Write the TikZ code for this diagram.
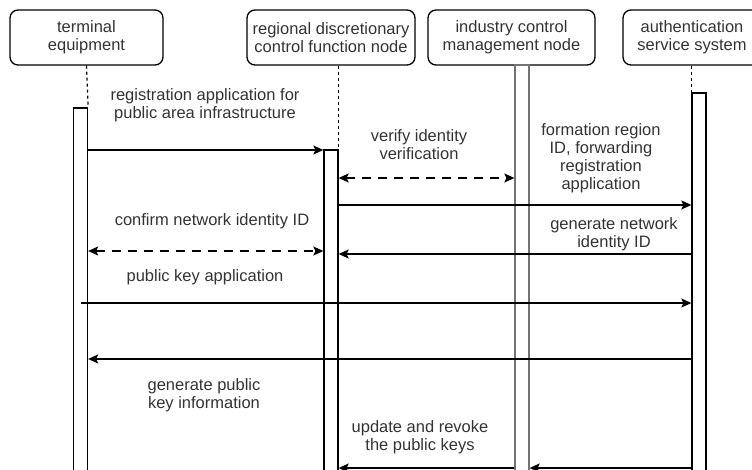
\documentclass[tikz,border=0pt]{standalone}
\usepackage{fontspec}
\setmainfont{Liberation Sans}
\usetikzlibrary{positioning}
\usetikzlibrary{arrows.meta}

\begin{document}
\begin{tikzpicture}[x=1pt,y=-1pt,
  txt/.style={align=center, text=black!80, font=\fontsize{16.5}{18}\selectfont, inner sep=0pt},
  head/.style={txt, draw, text=black!80, rounded corners=8pt, line width=1.3pt, minimum height=55pt},
  bar/.style={draw, fill=white, line width=1.3pt, minimum width=14pt, inner sep=0pt},
  life/.style={dash pattern=on 3pt off 3pt, line width=1.3pt},
  msg/.style={-{Stealth[length=10pt,width=9pt,inset=2pt]}, line width=1.3pt},
  both/.style={{Stealth[length=10pt,width=9pt,inset=2pt]}-{Stealth[length=10pt,width=9pt,inset=2pt]}, dash pattern=on 9pt off 7pt, line width=1.3pt}
]
\useasboundingbox (0,0) rectangle (752,470);
\clip (0,0) rectangle (752,470);

\node(term)[head, minimum width=153pt] at (86.5,37.5) {terminal\\equipment};
\node(reg)[head, minimum width=168pt] at (331,37.5) {regional discretionary\\control function node};
\node(ind)[head, minimum width=167pt] at (511.5,37.5) {industry control\\management node};
\node(auth)[head, minimum width=138pt] at (692,37.5) {authentication\\service system};

\node(tbar)[bar, minimum height=372pt] at (80.5,294) {};
\node(rbar)[bar, minimum height=330pt] at (331,315) {};
\node(ibar)[bar, draw=black!55, minimum height=415pt] at (522,272.5) {};
\node(abar)[bar, minimum height=387pt] at (699,286.5) {};

\draw[life] (term.south) -- (tbar.north east);
\draw[life] (rbar.north east |- reg.south) -- (rbar.north east);
\draw[life] (abar.north west |- auth.south) -- (abar.north west);

\coordinate(y1) at (0,150);
\coordinate(y2) at (0,178);
\coordinate(y3) at (0,205);
\coordinate(y4) at (0,254);
\coordinate(y5) at (0,251);
\coordinate(y6) at (0,303);
\coordinate(y7) at (0,359);
\coordinate(y8) at (0,468);

\draw[msg] (tbar.east |- y1) -- (rbar.west |- y1);
\draw[both] (rbar.east |- y2) -- (ibar.west |- y2);
\draw[msg] (rbar.east |- y3) -- (abar.west |- y3);
\draw[msg] (abar.west |- y4) -- (rbar.east |- y4);
\draw[both] (tbar.east |- y5) -- (rbar.west |- y5);
\draw[msg] (tbar.center |- y6) -- (abar.west |- y6);
\draw[msg] (abar.west |- y7) -- (tbar.east |- y7);
\draw[msg] (ibar.west |- y8) -- (rbar.east |- y8);
\draw[msg] (abar.west |- y8) -- (ibar.east |- y8);

\node(l1)[txt] at (205,105) {registration application for\\public area infrastructure};
\node(l2)[txt] at (419,145) {verify identity\\verification};
\node(l3)[txt] at (601,158) {formation region\\ID, forwarding\\registration\\application};
\node(l4)[txt] at (614,234) {generate network\\identity ID};
\node(l5)[txt] at (212,221) {confirm network identity ID};
\node(l6)[txt] at (205,277) {public key application};
\node(l7)[txt] at (204,395) {generate public\\key information};
\node(l8)[txt] at (420,437) {update and revoke\\the public keys};
\end{tikzpicture}
\end{document}
